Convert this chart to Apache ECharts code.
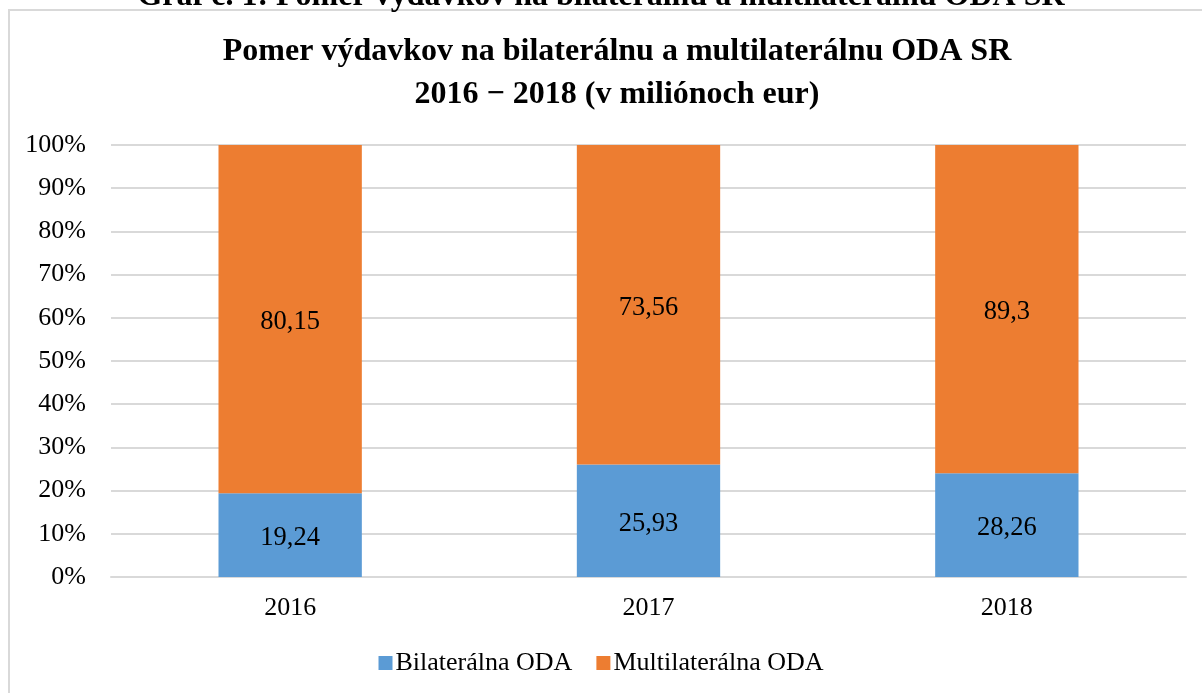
<!DOCTYPE html>
<html>
<head>
<meta charset="utf-8">
<style>
  html, body { margin: 0; padding: 0; background: #fff; }
  #main { width: 1202px; height: 693px; }
</style>
<script src="https://cdn.jsdelivr.net/npm/echarts@6/dist/echarts.min.js"></script>
</head>
<body>
<div id="main"></div>
<script>
// roky a hodnoty v mil. eur
var years = ['2016', '2017', '2018'];
var bilateral = [19.24, 25.93, 28.26];
var multilateral = [80.15, 73.56, 89.3];
var yTicks = [0, 10, 20, 30, 40, 50, 60, 70, 80, 90, 100];

var serif = '"Liberation Serif", "Times New Roman", serif';

function share(a, b) {
    var out = [];
    for (var i = 0; i < a.length; i++) {
        out.push({ value: a[i] / (a[i] + b[i]) * 100, raw: a[i] });
    }
    return out;
}

function fmt(p) {
    return String(p.data.raw).replace('.', ',');
}

var myChart = echarts.init(document.getElementById('main'));

var option = {
    animation: false,
    backgroundColor: '#fff',
    graphic: [
        {
            type: 'rect',
            shape: { x: 9, y: 10, width: 1200, height: 700 },
            style: { fill: 'none', stroke: '#d9d9d9', lineWidth: 2 }
        },
        {
            type: 'text',
            left: 'center',
            top: -19,
            style: {
                text: 'Graf č. 1: Pomer výdavkov na bilaterálnu a multilaterálnu ODA SR',
                font: 'bold 32px ' + serif,
                fill: '#000'
            }
        }
    ],
    title: {
        text: 'Pomer výdavkov na bilaterálnu a multilaterálnu ODA SR\n2016 \u2212 2018 (v miliónoch eur)',
        left: 612,
        top: 25,
        textAlign: 'center',
        textStyle: {
            fontFamily: serif,
            fontWeight: 'bold',
            fontSize: 32,
            lineHeight: 43,
            color: '#000'
        }
    },
    legend: {
        bottom: 12,
        left: 'center',
        itemWidth: 14,
        itemHeight: 14,
        itemGap: 24,
        icon: 'rect',
        textStyle: { fontFamily: serif, fontSize: 26, color: '#000', padding: [0, 0, 0, -2] },
        data: ['Bilaterálna ODA', 'Multilaterálna ODA']
    },
    grid: {
        left: 111,
        right: 16,
        top: 145,
        bottom: 116
    },
    xAxis: {
        type: 'category',
        data: years,
        axisLine: { show: true, lineStyle: { color: '#d9d9d9', width: 2 } },
        axisTick: { show: false },
        axisLabel: { fontFamily: serif, fontSize: 26, color: '#000', margin: 18 }
    },
    yAxis: {
        type: 'value',
        min: yTicks[0],
        max: yTicks[yTicks.length - 1],
        interval: 10,
        axisLine: { show: false },
        axisTick: { show: false },
        splitLine: { lineStyle: { color: '#d9d9d9', width: 2 } },
        axisLabel: {
            fontFamily: serif, fontSize: 26, color: '#000', margin: 25,
            formatter: '{value}%'
        }
    },
    series: [
        {
            name: 'Bilaterálna ODA',
            type: 'bar',
            stack: 'oda',
            barWidth: '40%',
            itemStyle: { color: '#5b9bd5' },
            label: {
                show: true, position: 'inside', formatter: fmt, offset: [0, 3],
                fontFamily: serif, fontSize: 26.5, color: '#000'
            },
            data: share(bilateral, multilateral)
        },
        {
            name: 'Multilaterálna ODA',
            type: 'bar',
            stack: 'oda',
            barWidth: '40%',
            itemStyle: { color: '#ed7d31' },
            label: {
                show: true, position: 'inside', formatter: fmt, offset: [0, 3],
                fontFamily: serif, fontSize: 26.5, color: '#000'
            },
            data: share(multilateral, bilateral)
        }
    ]
};

myChart.setOption(option);
</script>
</body>
</html>
